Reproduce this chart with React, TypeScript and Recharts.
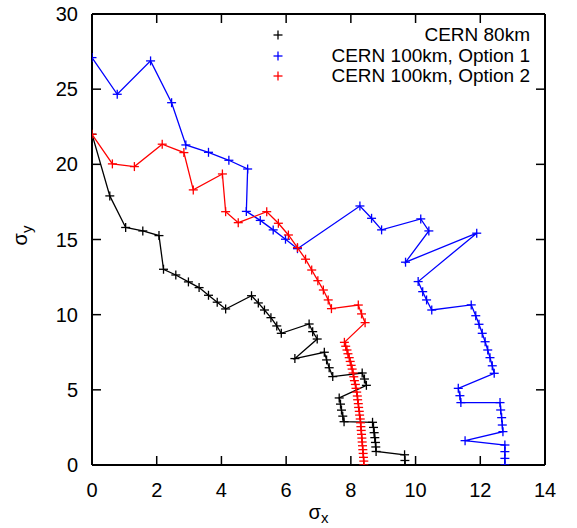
import React from 'react';
import { ScatterChart, Scatter, XAxis, YAxis, Legend } from 'recharts';

const FONT = '"Liberation Sans", Arial, Helvetica, sans-serif';

const xTicks = [0, 2, 4, 6, 8, 10, 12, 14];
const yTicks = [0, 5, 10, 15, 20, 25, 30];

const seriesNames = ['CERN 80km', 'CERN 100km, Option 1', 'CERN 100km, Option 2'];
const seriesColors = ['#000000', '#0000ff', '#ff0000'];

const cern80 = [
  { x: 0, y: 22 }, { x: 0.55, y: 17.9 }, { x: 1.04, y: 15.8 }, { x: 1.57, y: 15.57 },
  { x: 2.07, y: 15.26 }, { x: 2.21, y: 13.02 }, { x: 2.59, y: 12.64 }, { x: 2.98, y: 12.18 },
  { x: 3.31, y: 11.8 }, { x: 3.6, y: 11.29 }, { x: 3.87, y: 10.83 }, { x: 4.13, y: 10.38 },
  { x: 4.93, y: 11.26 }, { x: 5.14, y: 10.78 }, { x: 5.33, y: 10.31 }, { x: 5.53, y: 9.8 },
  { x: 5.71, y: 9.25 }, { x: 5.85, y: 8.76 }, { x: 6.71, y: 9.38 }, { x: 6.82, y: 8.87 },
  { x: 6.96, y: 8.38 }, { x: 6.27, y: 7.08 }, { x: 7.18, y: 7.5 }, { x: 7.25, y: 6.99 },
  { x: 7.33, y: 6.47 }, { x: 7.44, y: 5.88 }, { x: 8.35, y: 6.12 }, { x: 8.42, y: 5.72 },
  { x: 8.48, y: 5.3 }, { x: 7.64, y: 4.46 }, { x: 7.68, y: 4.05 }, { x: 7.71, y: 3.65 },
  { x: 7.75, y: 3.25 }, { x: 7.79, y: 2.88 }, { x: 8.67, y: 2.84 }, { x: 8.7, y: 2.5 },
  { x: 8.72, y: 2.15 }, { x: 8.74, y: 1.82 }, { x: 8.76, y: 1.5 }, { x: 8.77, y: 1.2 },
  { x: 8.78, y: 0.9 }, { x: 9.66, y: 0.68 }, { x: 9.67, y: 0.3 }, { x: 9.67, y: 0 },
];

const option1 = [
  { x: 0, y: 27.1 }, { x: 0.78, y: 24.66 }, { x: 1.81, y: 26.88 }, { x: 2.46, y: 24.1 },
  { x: 2.9, y: 21.29 }, { x: 3.6, y: 20.8 }, { x: 4.23, y: 20.27 }, { x: 4.81, y: 19.69 },
  { x: 4.77, y: 16.87 }, { x: 5.2, y: 16.27 }, { x: 5.6, y: 15.64 }, { x: 5.98, y: 15.02 },
  { x: 6.35, y: 14.39 }, { x: 8.28, y: 17.23 }, { x: 8.64, y: 16.41 }, { x: 8.95, y: 15.64 },
  { x: 10.16, y: 16.37 }, { x: 10.41, y: 15.57 }, { x: 9.69, y: 13.49 }, { x: 11.89, y: 15.42 },
  { x: 10.08, y: 12.2 }, { x: 10.22, y: 11.53 }, { x: 10.34, y: 10.98 }, { x: 10.5, y: 10.31 },
  { x: 11.72, y: 10.65 }, { x: 11.86, y: 9.93 }, { x: 11.96, y: 9.36 }, { x: 12.06, y: 8.76 },
  { x: 12.15, y: 8.2 }, { x: 12.23, y: 7.65 }, { x: 12.3, y: 7.14 }, { x: 12.37, y: 6.6 },
  { x: 12.43, y: 6.1 }, { x: 11.32, y: 5.1 }, { x: 11.37, y: 4.61 }, { x: 11.4, y: 4.15 },
  { x: 12.61, y: 4.15 }, { x: 12.63, y: 3.66 }, { x: 12.66, y: 3.15 }, { x: 12.68, y: 2.66 },
  { x: 12.7, y: 2.22 }, { x: 11.53, y: 1.62 }, { x: 12.76, y: 1.33 }, { x: 12.76, y: 0.89 },
  { x: 12.76, y: 0.44 }, { x: 12.76, y: 0 },
];

const option2 = [
  { x: 0, y: 22 }, { x: 0.63, y: 20.03 }, { x: 1.31, y: 19.85 }, { x: 2.17, y: 21.34 },
  { x: 2.84, y: 20.78 }, { x: 3.13, y: 18.3 }, { x: 4.03, y: 19.36 }, { x: 4.13, y: 16.85 },
  { x: 4.52, y: 16.12 }, { x: 5.4, y: 16.85 }, { x: 5.76, y: 16.08 }, { x: 6.07, y: 15.3 },
  { x: 6.35, y: 14.46 }, { x: 6.6, y: 13.69 }, { x: 6.79, y: 12.97 }, { x: 6.98, y: 12.26 },
  { x: 7.15, y: 11.64 }, { x: 7.3, y: 10.98 }, { x: 7.4, y: 10.4 }, { x: 8.23, y: 10.64 },
  { x: 8.33, y: 10.05 }, { x: 8.44, y: 9.47 }, { x: 7.8, y: 8.16 }, { x: 7.84, y: 7.9 },
  { x: 7.88, y: 7.65 }, { x: 7.91, y: 7.4 }, { x: 7.95, y: 7.14 }, { x: 7.98, y: 6.89 },
  { x: 8.01, y: 6.63 }, { x: 8.04, y: 6.38 }, { x: 8.07, y: 6.12 }, { x: 8.09, y: 5.87 },
  { x: 8.11, y: 5.61 }, { x: 8.14, y: 5.36 }, { x: 8.16, y: 5.1 }, { x: 8.18, y: 4.85 },
  { x: 8.2, y: 4.59 }, { x: 8.21, y: 4.34 }, { x: 8.23, y: 4.08 }, { x: 8.24, y: 3.83 },
  { x: 8.26, y: 3.57 }, { x: 8.27, y: 3.32 }, { x: 8.29, y: 3.06 }, { x: 8.3, y: 2.81 },
  { x: 8.31, y: 2.55 }, { x: 8.32, y: 2.3 }, { x: 8.33, y: 2.04 }, { x: 8.34, y: 1.79 },
  { x: 8.35, y: 1.53 }, { x: 8.36, y: 1.28 }, { x: 8.37, y: 1.02 }, { x: 8.38, y: 0.77 },
  { x: 8.39, y: 0.51 }, { x: 8.4, y: 0.26 }, { x: 8.4, y: 0 },
];

const seriesData = [cern80, option1, option2];

const TICK_LEN = 9;

const makePlus = (color: string) => (props: any) => {
  const { cx, cy } = props;
  if (cx == null || cy == null) return <g />;
  const s = 4.5;
  return (
    <g>
      <line x1={cx - s} x2={cx + s} y1={cy} y2={cy} stroke={color} strokeWidth={1.3} />
      <line x1={cx} x2={cx} y1={cy - s} y2={cy + s} stroke={color} strokeWidth={1.3} />
    </g>
  );
};

const NoShape = () => <g />;

const BottomTick = (props: any) => {
  const { x, y, payload } = props;
  return (
    <g>
      <line x1={x} x2={x} y1={y} y2={y - TICK_LEN} stroke="#000" strokeWidth={1.5} />
      <text x={x} y={y + 32} textAnchor="middle" fontSize={20} fontFamily={FONT} fill="#000">
        {payload.value}
      </text>
    </g>
  );
};

const TopTick = (props: any) => {
  const { x, y } = props;
  return <line x1={x} x2={x} y1={y} y2={y + TICK_LEN} stroke="#000" strokeWidth={1.5} />;
};

const LeftTick = (props: any) => {
  const { x, y, payload } = props;
  return (
    <g>
      <line x1={x} x2={x + TICK_LEN} y1={y} y2={y} stroke="#000" strokeWidth={1.5} />
      <text x={x - 14} y={y + 7} textAnchor="end" fontSize={20} fontFamily={FONT} fill="#000">
        {payload.value}
      </text>
    </g>
  );
};

const RightTick = (props: any) => {
  const { x, y } = props;
  return <line x1={x} x2={x - TICK_LEN} y1={y} y2={y} stroke="#000" strokeWidth={1.5} />;
};

const XLabel = (props: any) => {
  const { viewBox } = props;
  const cx = viewBox.x + viewBox.width / 2;
  return (
    <text x={cx} y={viewBox.y + 54} textAnchor="middle" fontSize={20} fontFamily={FONT} fill="#000">
      <tspan>σ</tspan>
      <tspan dy={4} fontSize={15}>x</tspan>
    </text>
  );
};

const YLabel = (props: any) => {
  const { viewBox } = props;
  const cy = viewBox.y + viewBox.height / 2 - 4;
  const x = 27;
  return (
    <text
      x={x}
      y={cy}
      transform={`rotate(-90 ${x} ${cy})`}
      textAnchor="middle"
      fontSize={20}
      fontFamily={FONT}
      fill="#000"
    >
      <tspan>σ</tspan>
      <tspan dy={5} fontSize={15}>y</tspan>
    </text>
  );
};

const LegendContent = () => (
  <div style={{ width: 290, fontFamily: FONT, fontSize: 19, color: '#000' }}>
    {seriesNames.map((name, i) => (
      <div key={name} style={{ position: 'relative', height: 20.5, lineHeight: '20.5px', textAlign: 'right' }}>
        <svg width={10} height={10} style={{ position: 'absolute', left: 33, top: 5 }}>
          <line x1={0.5} x2={9.5} y1={5} y2={5} stroke={seriesColors[i]} strokeWidth={1.3} />
          <line x1={5} x2={5} y1={0.5} y2={9.5} stroke={seriesColors[i]} strokeWidth={1.3} />
        </svg>
        <span>{name}</span>
      </div>
    ))}
  </div>
);

export default function App() {
  return (
    <div style={{ position: 'absolute', left: 0, top: 0, width: 577, height: 528, background: '#fff' }}>
      <ScatterChart width={577} height={528} margin={{ top: 13, right: 31, bottom: 0, left: 0 }}>
        <XAxis
          xAxisId="main"
          type="number"
          dataKey="x"
          domain={[0, 14]}
          ticks={xTicks}
          allowDataOverflow
          height={63}
          tickSize={0}
          tickMargin={0}
          tick={<BottomTick />}
          axisLine={{ stroke: '#000', strokeWidth: 2 }}
          label={<XLabel />}
          interval={0}
        />
        <XAxis
          xAxisId="top"
          orientation="top"
          type="number"
          dataKey="x"
          domain={[0, 14]}
          ticks={xTicks}
          allowDataOverflow
          height={1}
          tickSize={0}
          tickMargin={0}
          tick={<TopTick />}
          axisLine={{ stroke: '#000', strokeWidth: 2 }}
          interval={0}
        />
        <YAxis
          yAxisId="main"
          type="number"
          dataKey="y"
          domain={[0, 30]}
          ticks={yTicks}
          allowDataOverflow
          width={92}
          tickSize={0}
          tickMargin={0}
          tick={<LeftTick />}
          axisLine={{ stroke: '#000', strokeWidth: 2 }}
          label={<YLabel />}
          interval={0}
        />
        <YAxis
          yAxisId="right"
          orientation="right"
          type="number"
          dataKey="y"
          domain={[0, 30]}
          ticks={yTicks}
          allowDataOverflow
          width={1}
          tickSize={0}
          tickMargin={0}
          tick={<RightTick />}
          axisLine={{ stroke: '#000', strokeWidth: 2 }}
          interval={0}
        />
        <Legend
          layout="vertical"
          align="center"
          verticalAlign="middle"
          content={<LegendContent />}
          wrapperStyle={{ position: 'absolute', left: 240, top: 25, width: 290, height: 62 }}
        />
        <Scatter
          name="frame"
          data={cern80}
          xAxisId="top"
          yAxisId="right"
          shape={NoShape}
          legendType="none"
          isAnimationActive={false}
        />
        {seriesData.map((d, i) => (
          <Scatter
            key={seriesNames[i]}
            name={seriesNames[i]}
            data={d}
            xAxisId="main"
            yAxisId="main"
            line={{ stroke: seriesColors[i], strokeWidth: 1.3 }}
            lineType="joint"
            shape={makePlus(seriesColors[i])}
            fill={seriesColors[i]}
            isAnimationActive={false}
          />
        ))}
      </ScatterChart>
    </div>
  );
}
